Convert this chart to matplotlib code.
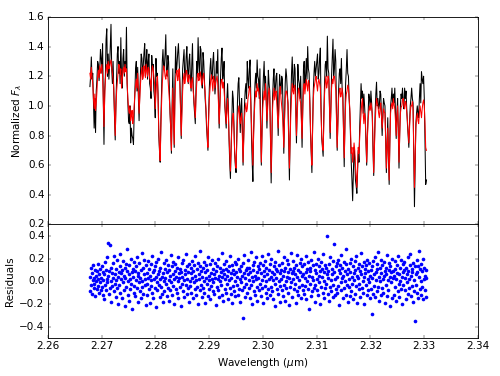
import numpy as np
import matplotlib
matplotlib.use("Agg")
import matplotlib.pyplot as plt

plt.style.use("classic")
plt.rcParams["mathtext.fontset"] = "dejavusans"

# wavelength range of the spectrum (micron)
wave_start = 2.2678
wave_end = 2.3304

# model spectrum (red)
model = [
    1.22, 1.18, 1.26, 1.20, 1.15, 1.05, 0.98, 1.08, 0.97, 1.02, 1.10, 1.20, 1.24, 1.19, 1.27, 1.22, 1.25, 1.28, 1.20, 1.05,
    0.86, 1.05, 1.18, 1.25, 1.28, 1.22, 1.30, 1.25, 1.26, 1.29, 1.31, 1.27, 1.22, 1.18, 1.12, 0.95, 0.80, 0.98, 1.10, 1.16,
    1.22, 1.28, 1.27, 1.21, 1.25, 1.12, 1.18, 1.24, 1.26, 1.22, 1.28, 1.23, 1.25, 1.15, 1.05, 0.98, 0.95, 1.00, 0.90, 0.93,
    0.97, 0.88, 0.92, 1.00, 1.08, 1.14, 1.18, 1.12, 1.22, 1.10, 0.95, 1.05, 1.15, 1.22, 1.26, 1.18, 1.20, 1.27, 1.24, 1.19,
    1.28, 1.24, 1.20, 1.26, 1.25, 1.19, 1.17, 1.10, 1.22, 1.27, 1.25, 1.20, 1.15, 0.98, 1.08, 1.16, 1.20, 1.05, 0.85, 0.72,
    0.63, 0.85, 1.02, 1.15, 1.22, 1.27, 1.25, 1.20, 1.18, 1.23, 1.24, 1.19, 1.12, 1.05, 0.98, 0.84, 0.70, 0.95, 1.12, 0.92,
    0.74, 1.02, 1.18, 1.22, 1.24, 1.17, 1.20, 1.25, 1.14, 0.98, 0.80, 0.95, 1.10, 1.18, 1.22, 1.15, 1.18, 1.24, 1.23, 1.17,
    1.16, 1.21, 1.20, 1.14, 1.12, 1.17, 1.19, 1.10, 1.05, 0.98, 0.92, 1.05, 1.15, 1.20, 1.22, 1.17, 1.18, 1.23, 1.20, 1.14,
    1.16, 1.20, 1.22, 1.15, 1.10, 1.00, 0.90, 0.80, 0.72, 0.90, 1.05, 1.12, 1.18, 1.21, 1.15, 1.10, 1.20, 1.17, 1.12, 1.16,
    1.18, 1.20, 1.15, 1.02, 0.88, 1.00, 1.12, 1.17, 1.18, 1.12, 1.16, 1.10, 1.02, 0.95, 0.88, 0.97, 1.05, 0.95, 0.80, 0.68,
    0.56, 0.72, 0.85, 0.92, 0.95, 0.85, 0.70, 0.62, 0.58, 0.75, 0.90, 0.96, 1.00, 0.94, 0.88, 0.92, 0.95, 0.80, 0.62, 0.78,
    0.92, 0.98, 1.02, 0.96, 0.98, 1.05, 1.08, 1.13, 1.12, 1.02, 0.88, 0.72, 0.60, 0.80, 0.95, 1.04, 1.10, 1.06, 1.15, 1.10,
    1.12, 1.08, 1.05, 0.85, 0.62, 0.82, 0.98, 1.05, 1.10, 1.04, 1.15, 1.05, 0.90, 0.98, 1.08, 1.12, 1.05, 0.80, 0.55, 0.75,
    0.98, 1.06, 1.12, 1.04, 1.08, 1.10, 1.02, 0.94, 0.85, 0.98, 1.10, 1.13, 1.05, 1.00, 0.95, 0.85, 0.72, 0.90, 1.05, 1.10,
    1.10, 1.06, 1.02, 0.80, 0.58, 0.78, 0.95, 1.06, 1.15, 1.10, 1.08, 1.14, 1.12, 0.98, 0.80, 0.92, 1.05, 1.12, 1.10, 1.04,
    1.02, 0.90, 0.78, 0.98, 1.12, 1.15, 1.08, 1.13, 1.18, 1.14, 1.10, 1.17, 1.15, 1.02, 0.85, 0.70, 0.60, 0.85, 1.05, 1.12,
    1.15, 1.18, 1.20, 1.14, 1.10, 1.16, 1.18, 1.15, 1.12, 0.95, 0.80, 0.74, 0.70, 0.90, 1.08, 1.16, 1.20, 1.12, 1.15, 1.20,
    1.18, 1.00, 0.82, 0.98, 1.12, 1.18, 1.15, 1.20, 1.20, 1.16, 1.10, 0.90, 0.72, 0.88, 1.05, 1.10, 1.12, 1.06, 1.08, 1.12,
    1.05, 0.85, 0.65, 0.84, 1.02, 1.08, 1.10, 1.14, 1.12, 1.05, 0.98, 0.82, 0.68, 0.72, 0.62, 0.68, 0.75, 0.70, 0.60, 0.52,
    0.45, 0.58, 0.72, 0.68, 0.78, 0.88, 0.95, 1.02, 1.05, 0.95, 0.88, 0.95, 0.92, 0.78, 0.62, 0.78, 0.90, 0.96, 1.00, 0.97,
    1.02, 0.99, 0.95, 0.75, 0.55, 0.72, 0.88, 0.98, 1.05, 1.02, 1.00, 0.95, 0.92, 0.98, 1.02, 0.94, 0.85, 0.92, 0.98, 0.96,
    0.95, 0.78, 0.58, 0.72, 0.85, 0.68, 0.50, 0.75, 0.95, 1.00, 1.02, 0.98, 1.05, 1.01, 0.98, 0.90, 0.80, 0.92, 1.00, 0.85,
    0.62, 0.80, 0.95, 0.99, 1.00, 1.04, 1.05, 1.00, 0.98, 1.03, 1.02, 0.96, 0.90, 0.82, 0.75, 0.85, 0.95, 1.00, 1.00, 1.03,
    0.98, 0.72, 0.45, 0.65, 0.85, 0.92, 0.95, 0.90, 0.88, 0.95, 1.00, 0.96, 0.92, 0.98, 1.02, 1.04, 1.00, 0.88, 0.72, 0.70,
]

# observed spectrum (black)
flux = [
    1.13, 1.20, 1.33, 1.18, 1.22, 1.02, 0.85, 1.05, 0.82, 1.10, 1.18, 1.30, 1.28, 1.17, 1.25, 1.38, 1.32, 1.22, 1.42, 1.05,
    0.74, 1.10, 1.20, 1.45, 1.52, 1.20, 1.35, 1.18, 1.28, 1.40, 1.55, 1.25, 1.15, 1.30, 1.08, 0.92, 0.77, 1.02, 1.18, 1.35,
    1.40, 1.22, 1.30, 1.15, 1.46, 1.20, 1.12, 1.32, 1.38, 1.20, 1.30, 1.25, 1.53, 1.15, 1.02, 0.90, 0.88, 1.00, 0.75, 0.85,
    0.80, 0.78, 0.74, 0.95, 1.10, 1.25, 1.30, 1.10, 1.26, 1.05, 0.90, 1.10, 1.22, 1.35, 1.32, 1.18, 1.28, 1.36, 1.42, 1.20,
    1.30, 1.38, 1.18, 1.30, 1.35, 1.15, 1.12, 1.05, 1.34, 1.25, 1.28, 1.10, 1.05, 0.92, 1.32, 1.20, 1.22, 1.08, 0.80, 0.70,
    0.62, 0.90, 1.10, 1.30, 1.38, 1.25, 1.27, 1.35, 1.48, 1.22, 1.20, 1.34, 1.30, 1.12, 0.95, 0.85, 0.68, 1.00, 1.25, 0.95,
    0.72, 1.15, 1.40, 1.22, 1.28, 1.36, 1.42, 1.30, 1.18, 1.00, 0.78, 1.05, 1.25, 1.32, 1.38, 1.18, 1.20, 1.33, 1.40, 1.25,
    1.15, 1.30, 1.35, 1.20, 1.10, 1.28, 1.42, 1.15, 1.02, 0.95, 0.88, 1.12, 1.30, 1.22, 1.46, 1.28, 1.20, 1.40, 1.38, 1.18,
    1.12, 1.36, 1.30, 1.18, 1.05, 0.98, 0.86, 0.78, 0.70, 0.95, 1.12, 1.25, 1.32, 1.20, 1.18, 1.30, 1.36, 1.22, 1.08, 1.15,
    1.30, 1.22, 1.38, 1.05, 0.85, 1.02, 1.20, 1.32, 1.39, 1.18, 1.22, 1.30, 1.00, 0.92, 0.85, 1.05, 1.15, 1.00, 0.78, 0.62,
    0.51, 0.70, 0.90, 1.10, 1.05, 0.88, 0.68, 0.60, 0.55, 0.80, 1.02, 1.15, 1.19, 1.00, 0.82, 1.00, 1.05, 0.85, 0.60, 0.82,
    1.00, 1.10, 1.15, 1.05, 1.30, 1.18, 1.12, 1.25, 1.31, 1.05, 0.80, 0.62, 0.49, 0.82, 1.00, 1.15, 1.22, 1.12, 1.31, 1.20,
    1.18, 1.05, 1.25, 0.88, 0.60, 0.85, 1.08, 1.20, 1.30, 1.10, 1.20, 1.02, 0.85, 1.05, 1.24, 1.15, 1.10, 0.78, 0.48, 0.75,
    1.05, 1.18, 1.25, 1.08, 1.12, 1.20, 1.22, 1.00, 0.80, 1.05, 1.21, 1.15, 1.08, 1.20, 1.18, 0.95, 0.68, 0.92, 1.15, 1.25,
    1.20, 1.10, 1.00, 0.75, 0.50, 0.80, 1.05, 1.22, 1.33, 1.15, 1.12, 1.28, 1.25, 1.00, 0.75, 0.98, 1.28, 1.18, 1.15, 1.05,
    1.20, 0.95, 0.72, 1.00, 1.25, 1.30, 1.12, 1.20, 1.32, 1.18, 1.40, 1.25, 1.22, 1.05, 0.82, 0.68, 0.55, 0.85, 1.10, 1.22,
    1.30, 1.20, 1.25, 1.30, 1.35, 1.18, 1.22, 1.32, 1.39, 1.00, 0.78, 0.72, 0.66, 0.95, 1.15, 1.28, 1.30, 1.20, 1.47, 1.25,
    1.22, 1.00, 0.78, 1.00, 1.20, 1.32, 1.45, 1.20, 1.25, 1.38, 1.30, 0.95, 0.70, 0.90, 1.10, 1.22, 1.25, 1.15, 1.32, 1.12,
    1.08, 0.82, 0.59, 0.90, 1.15, 1.25, 1.38, 1.22, 1.20, 1.05, 0.95, 0.78, 0.62, 0.50, 0.36, 0.55, 0.72, 0.65, 0.50, 0.46,
    0.41, 0.55, 0.70, 0.62, 0.85, 1.00, 1.15, 1.05, 1.10, 0.95, 1.08, 1.00, 0.90, 0.75, 0.60, 0.80, 0.95, 1.08, 1.05, 0.98,
    1.10, 1.02, 0.92, 0.70, 0.53, 0.75, 0.95, 1.08, 1.16, 1.00, 1.05, 0.98, 1.00, 1.10, 1.08, 0.95, 0.80, 0.95, 1.05, 1.02,
    1.00, 0.78, 0.55, 0.75, 0.92, 0.65, 0.47, 0.78, 1.00, 1.05, 1.12, 1.00, 1.08, 1.02, 1.12, 0.95, 0.78, 0.95, 1.05, 0.82,
    0.58, 0.82, 1.00, 1.08, 1.05, 1.12, 1.02, 0.98, 1.12, 1.05, 1.10, 0.98, 0.88, 0.80, 0.72, 0.88, 1.00, 1.05, 1.12, 1.05,
    1.02, 0.65, 0.32, 0.62, 0.88, 0.95, 1.00, 0.95, 0.92, 1.05, 1.15, 1.02, 1.23, 1.18, 1.15, 1.20, 1.05, 0.75, 0.47, 0.50,
]

# residuals (blue points)
resid = [
    0.04, -0.09, 0.12, -0.03, 0.07, -0.11, 0.01, 0.14, -0.06, 0.03, -0.02, 0.10, -0.13, 0.05, 0.00, -0.07, 0.09, 0.02, -0.04, 0.15, -0.10, 0.06, -0.01, 0.11, -0.08,
    0.03, 0.13, -0.05, -0.12, 0.08, 0.01, -0.16, 0.06, 0.17, -0.03, 0.10, -0.08, 0.02, 0.21, -0.01, 0.34, 0.05, -0.11, 0.09, -0.06, 0.32, 0.00, 0.12, -0.18, 0.07,
    -0.04, 0.16, 0.03, -0.09, 0.22, -0.02, 0.06, -0.14, 0.11, 0.01, -0.06, 0.19, 0.04, -0.20, 0.08, -0.03, 0.13, 0.24, -0.10, 0.02, 0.07, -0.15, 0.10, -0.01, 0.18,
    0.05, -0.08, 0.12, -0.22, 0.03, 0.15, -0.05, 0.09, 0.28, -0.12, 0.00, 0.06, -0.17, 0.14, 0.02, -0.07, 0.20, -0.02, 0.08, -0.24, 0.11, 0.04, -0.10, 0.17, -0.04,
    0.09, -0.13, 0.01, 0.13, -0.06, 0.21, 0.05, -0.18, 0.07, -0.01, 0.16, -0.09, 0.03, 0.10, -0.15, 0.00, 0.25, -0.05, 0.12, -0.11, 0.06, 0.19, -0.03, 0.02, -0.21,
    0.14, -0.02, 0.07, -0.12, 0.18, 0.03, -0.07, 0.11, -0.19, 0.05, 0.01, -0.04, 0.15, -0.10, 0.22, 0.08, -0.15, 0.02, 0.10, -0.06, 0.13, -0.23, 0.04, 0.17, -0.01,
    -0.08, 0.06, 0.20, -0.03, 0.09, -0.14, 0.02, 0.12, -0.05, 0.26, -0.11, 0.04, 0.07, -0.18, 0.16, 0.00, -0.09, 0.11, 0.03, -0.02, 0.19, -0.13, 0.08, -0.06, 0.14,
    0.01, -0.17, 0.10, 0.05, -0.08, 0.23, -0.01, 0.13, -0.12, 0.06, 0.17, -0.04, 0.02, -0.20, 0.09, 0.15, -0.07, 0.04, 0.12, -0.10, 0.00, 0.21, -0.15, 0.07, 0.03,
    -0.05, 0.11, -0.22, 0.08, 0.16, -0.02, 0.04, -0.09, 0.19, 0.01, -0.14, 0.10, 0.06, -0.03, 0.24, -0.11, 0.02, 0.13, -0.06, 0.08, -0.18, 0.15, 0.00, -0.04, 0.12,
    0.07, -0.10, 0.18, 0.03, -0.15, 0.09, -0.01, 0.14, -0.07, 0.05, 0.22, -0.12, 0.01, 0.11, -0.05, 0.16, -0.20, 0.06, 0.02, -0.08, 0.13, 0.27, -0.03, 0.09, -0.14,
    0.04, 0.12, -0.06, 0.00, 0.17, -0.10, 0.08, -0.19, 0.03, 0.14, -0.02, 0.10, -0.13, 0.21, 0.05, -0.07, 0.01, 0.15, -0.16, 0.07, -0.04, 0.19, 0.02, -0.09, 0.11,
    -0.01, 0.06, -0.11, 0.16, 0.03, -0.21, 0.09, 0.13, -0.05, 0.02, 0.20, -0.08, 0.05, -0.14, 0.12, 0.00, 0.08, -0.03, 0.25, -0.12, 0.04, 0.10, -0.17, 0.06, 0.15,
    -0.07, 0.02, 0.11, -0.10, 0.18, 0.05, -0.02, 0.09, -0.16, 0.13, 0.01, -0.06, 0.22, -0.11, 0.07, 0.03, -0.19, 0.14, -0.04, 0.10, 0.06, -0.09, 0.17, 0.00, -0.13,
    0.08, 0.15, -0.03, 0.04, -0.12, 0.20, -0.07, 0.11, 0.02, -0.18, 0.09, -0.01, 0.13, -0.08, 0.05, -0.32, 0.16, -0.05, 0.07, 0.23, -0.14, 0.03, 0.10, -0.02, 0.12,
    -0.10, 0.06, 0.19, -0.06, 0.01, 0.12, -0.15, 0.08, 0.26, -0.03, 0.04, -0.20, 0.14, 0.00, 0.10, -0.09, 0.17, 0.05, -0.12, 0.02, 0.21, -0.05, 0.08, -0.17, 0.13,
    0.03, -0.08, 0.11, 0.16, -0.02, 0.07, -0.13, 0.22, 0.01, -0.06, 0.14, -0.19, 0.05, 0.09, -0.04, 0.18, -0.10, 0.00, 0.12, -0.15, 0.06, 0.24, -0.07, 0.02, 0.10,
    -0.12, 0.15, 0.04, -0.05, 0.20, -0.09, 0.08, 0.01, -0.16, 0.13, 0.06, -0.02, 0.17, -0.22, 0.03, 0.11, -0.07, 0.09, 0.27, -0.11, 0.00, 0.14, -0.04, 0.07, -0.18,
    0.10, 0.02, -0.08, 0.16, -0.13, 0.05, 0.21, -0.03, 0.09, -0.17, 0.12, 0.00, -0.06, 0.19, 0.04, -0.10, 0.08, 0.15, -0.21, 0.03, 0.11, -0.05, 0.25, -0.01, 0.07,
    -0.14, 0.09, 0.02, 0.18, -0.07, 0.12, -0.02, 0.06, -0.19, 0.14, 0.23, -0.09, 0.04, -0.12, 0.10, 0.01, -0.05, 0.16, 0.08, -0.15, 0.20, -0.03, 0.05, 0.13, -0.08,
    0.06, -0.11, 0.15, 0.03, -0.04, 0.22, -0.16, 0.08, 0.00, 0.11, -0.07, 0.17, -0.24, 0.05, 0.12, -0.02, 0.09, -0.13, 0.19, 0.04, -0.09, 0.14, 0.01, -0.06, 0.26,
    -0.03, 0.10, -0.18, 0.07, 0.15, -0.08, 0.02, 0.20, -0.12, 0.05, -0.01, 0.13, 0.09, -0.20, 0.17, -0.05, 0.04, 0.11, -0.10, 0.24, 0.00, -0.15, 0.08, 0.14, -0.06,
    0.12, -0.02, 0.06, 0.40, -0.11, 0.09, 0.03, -0.17, 0.15, -0.05, 0.21, 0.01, -0.09, 0.11, 0.06, -0.14, 0.18, -0.03, 0.33, 0.08, -0.12, 0.02, 0.13, -0.07, 0.16,
    -0.10, 0.04, 0.19, -0.04, 0.10, -0.21, 0.07, 0.14, -0.01, 0.23, -0.08, 0.03, 0.12, -0.15, 0.05, 0.17, -0.06, 0.00, 0.09, -0.12, 0.15, 0.28, -0.03, 0.06, -0.18,
    0.11, -0.05, 0.02, 0.16, -0.13, 0.08, 0.20, -0.09, 0.04, -0.02, 0.13, -0.16, 0.07, 0.01, 0.18, -0.11, 0.10, -0.04, 0.22, 0.05, -0.19, 0.12, 0.03, -0.07, 0.15,
    -0.02, 0.09, -0.14, 0.06, 0.25, -0.06, 0.13, 0.00, -0.10, 0.17, 0.04, -0.20, 0.11, 0.07, -0.03, 0.14, -0.12, 0.19, 0.02, -0.08, 0.09, -0.01, 0.16, -0.15, 0.05,
    0.10, -0.07, -0.29, 0.13, 0.03, -0.11, 0.18, 0.06, -0.04, 0.21, -0.14, 0.08, 0.01, 0.15, -0.09, 0.11, 0.26, -0.05, 0.04, -0.17, 0.12, 0.00, 0.07, -0.12, 0.19,
    -0.06, 0.14, 0.02, -0.10, 0.17, 0.05, -0.19, 0.09, 0.12, -0.03, 0.06, -0.13, 0.23, 0.01, -0.08, 0.10, 0.16, -0.22, 0.04, 0.13, -0.01, 0.08, -0.15, 0.20, 0.03,
    0.09, -0.12, 0.05, 0.18, -0.05, 0.11, -0.17, 0.02, 0.14, 0.07, -0.09, 0.22, -0.02, 0.06, -0.14, 0.12, 0.00, 0.19, -0.07, 0.04, -0.20, 0.15, 0.08, -0.03, 0.10,
    0.17, -0.08, 0.03, -0.16, 0.12, 0.06, -0.01, 0.21, -0.11, 0.09, 0.02, -0.06, 0.14, 0.24, -0.13, 0.05, 0.11, -0.04, 0.08, -0.18, 0.16, 0.01, -0.09, -0.35, 0.13,
    0.06, -0.03, 0.19, -0.10, 0.08, 0.13, -0.15, 0.04, 0.27, -0.07, 0.11, 0.00, -0.12, 0.15, -0.05, 0.09, 0.20, -0.16, 0.02, 0.12, -0.08, 0.05, -0.14, 0.10, 0.03,
]

wave = np.linspace(wave_start, wave_end, len(flux))
wave_r = np.linspace(wave_start, wave_end, len(resid))

fig = plt.figure(figsize=(8, 6.016), dpi=62.5, facecolor="white")
ax1 = fig.add_axes([0.096, 0.403, 0.86, 0.552])
ax2 = fig.add_axes([0.096, 0.101, 0.86, 0.302], sharex=ax1)

ax1.plot(wave, flux, "k-", lw=1.2)
ax1.plot(wave, model, "r-", lw=1.2)
ax1.set_ylim(0.2, 1.6)
ax1.set_ylabel(r"Normalized $F_\lambda$")
plt.setp(ax1.get_xticklabels(), visible=False)

ax2.plot(wave_r, resid, "bo", ms=4.2, mew=0)
ax2.set_ylim(-0.5, 0.5)
ax2.set_yticks([-0.4, -0.2, 0.0, 0.2, 0.4])
ax2.set_xlim(2.26, 2.34)
ax2.set_xticks(np.arange(2.26, 2.3401, 0.01))
ax2.set_ylabel("Residuals")
ax2.set_xlabel(r"Wavelength ($\mu$m)")
ax2.ticklabel_format(axis="x", useOffset=False)

fig.savefig("out.png", dpi=62.5, facecolor="white")
